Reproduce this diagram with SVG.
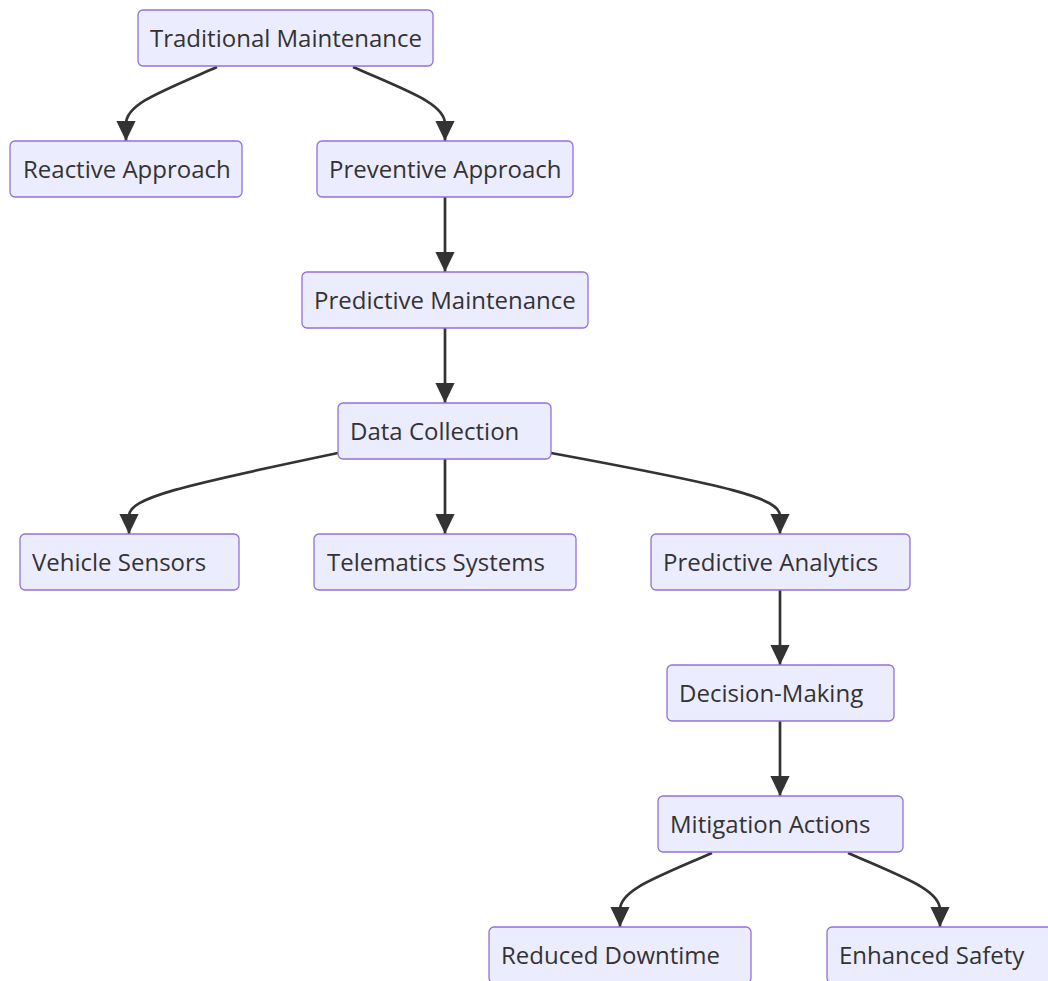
<svg xmlns="http://www.w3.org/2000/svg" width="1048" height="981" viewBox="0 0 1048 981">
<style>
.n rect{fill:#ECECFF;stroke:#9370DB;stroke-width:1.3}
.n text{font-family:"Open Sans","Noto Sans",sans-serif;font-size:24px;fill:#333}
.e path{fill:none;stroke:#333;stroke-width:2.7}
</style>
<defs>
<marker id="ah" viewBox="0 0 10 10" refX="10" refY="5" markerWidth="7.5" markerHeight="7.2" markerUnits="strokeWidth" orient="auto" preserveAspectRatio="none">
<path d="M0,0 L10,5 L0,10 z" fill="#333"/>
</marker>
</defs>
<rect width="1048" height="981" fill="#fff"/>
<g class="e">
<path d="M217,67 C160,92 126,104 126,124 L126,141" marker-end="url(#ah)"/>
<path d="M353,67 C410,92 445,104 445,124 L445,141" marker-end="url(#ah)"/>
<path d="M445,197 L445,272" marker-end="url(#ah)"/>
<path d="M445,328 L445,403" marker-end="url(#ah)"/>
<path d="M338,453 C180,486 129,498 129,516 L129,534" marker-end="url(#ah)"/>
<path d="M445,459 L445,534" marker-end="url(#ah)"/>
<path d="M551,453 C730,486 780,498 780,516 L780,534" marker-end="url(#ah)"/>
<path d="M780,590 L780,665" marker-end="url(#ah)"/>
<path d="M780,721 L780,796" marker-end="url(#ah)"/>
<path d="M712,853 C655,878 620,890 620,910 L620,927" marker-end="url(#ah)"/>
<path d="M848,853 C905,878 940,890 940,910 L940,927" marker-end="url(#ah)"/>
</g>
<g id="n1" class="n"><rect x="138" y="10" width="295" height="56" rx="5"/><text x="150" y="46.5">Traditional Maintenance</text></g>
<g id="n2" class="n"><rect x="10" y="141" width="232" height="56" rx="5"/><text x="23" y="177.5">Reactive Approach</text></g>
<g id="n3" class="n"><rect x="317" y="141" width="256" height="56" rx="5"/><text x="329" y="177.5">Preventive Approach</text></g>
<g id="n4" class="n"><rect x="302" y="272" width="286" height="56" rx="5"/><text x="314" y="308.5">Predictive Maintenance</text></g>
<g id="n5" class="n"><rect x="338" y="403" width="213" height="56" rx="5"/><text x="350" y="439.5">Data Collection</text></g>
<g id="n6" class="n"><rect x="20" y="534" width="219" height="56" rx="5"/><text x="32" y="570.5">Vehicle Sensors</text></g>
<g id="n7" class="n"><rect x="314" y="534" width="262" height="56" rx="5"/><text x="327" y="570.5">Telematics Systems</text></g>
<g id="n8" class="n"><rect x="651" y="534" width="259" height="56" rx="5"/><text x="663" y="570.5">Predictive Analytics</text></g>
<g id="n9" class="n"><rect x="667" y="665" width="227" height="56" rx="5"/><text x="679" y="701.5">Decision-Making</text></g>
<g id="n10" class="n"><rect x="658" y="796" width="245" height="56" rx="5"/><text x="670" y="832.5">Mitigation Actions</text></g>
<g id="n11" class="n"><rect x="489" y="927" width="262" height="56" rx="5"/><text x="501" y="963.5">Reduced Downtime</text></g>
<g id="n12" class="n"><rect x="827" y="927" width="240" height="56" rx="5"/><text x="839" y="963.5">Enhanced Safety</text></g>
</svg>
